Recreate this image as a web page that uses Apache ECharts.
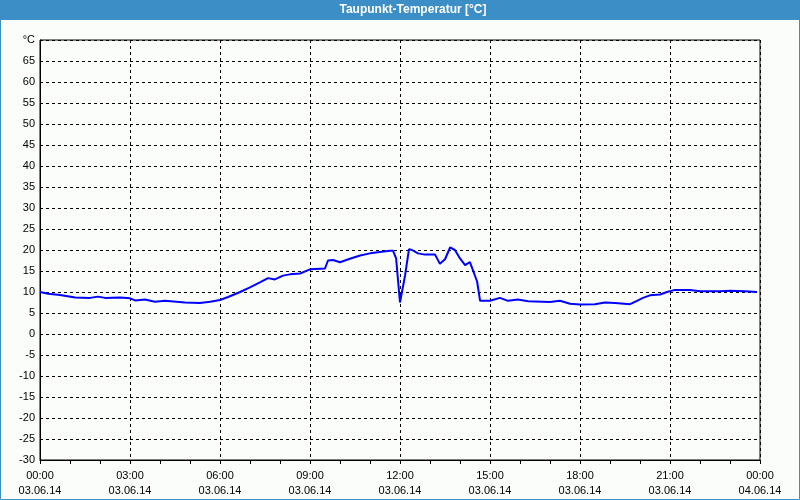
<!DOCTYPE html>
<html>
<head>
<meta charset="utf-8">
<script src="https://cdn.jsdelivr.net/npm/echarts@6/dist/echarts.min.js"></script>
<style>
html,body{margin:0;padding:0;background:#fbfdfb;}
#chart{width:800px;height:500px;}
</style>
</head>
<body>
<div id="chart"></div>
<script>
// Time in hours since 03.06.14 00:00
var hours = [0.0,0.27,0.67,1.17,1.67,1.93,2.17,2.67,3.0,3.17,3.5,3.83,4.17,4.83,5.33,5.67,6.0,6.27,6.67,7.0,7.33,7.6,7.83,8.1,8.33,8.67,9.0,9.5,9.6,9.77,10.0,10.33,10.67,11.0,11.33,11.67,11.77,11.87,12.0,12.17,12.3,12.4,12.6,12.83,13.17,13.33,13.5,13.67,13.83,14.0,14.17,14.33,14.43,14.57,14.67,15.0,15.33,15.6,15.93,16.27,17.0,17.33,17.67,18.0,18.5,18.83,19.17,19.67,19.9,20.1,20.33,20.67,20.9,21.17,21.67,22.0,22.67,23.0,23.5,23.9];
var dewPoint = [10.0,9.6,9.3,8.7,8.6,8.9,8.6,8.7,8.5,8.0,8.2,7.7,7.9,7.5,7.4,7.7,8.1,8.8,10.0,11.1,12.3,13.3,13.0,13.9,14.2,14.4,15.4,15.6,17.5,17.6,17.1,17.9,18.7,19.2,19.5,19.8,19.8,18.0,7.5,14.0,20.2,20.0,19.2,18.9,18.9,16.7,17.8,20.6,20.0,18.0,16.4,17.1,15.2,12.5,7.9,7.9,8.6,7.9,8.2,7.8,7.6,7.9,7.2,7.0,7.1,7.5,7.4,7.1,7.9,8.6,9.2,9.4,10.0,10.5,10.5,10.2,10.2,10.3,10.2,10.0];
var xTickHours = [0,3,6,9,12,15,18,21,24];
var xTickTimes = ['00:00','03:00','06:00','09:00','12:00','15:00','18:00','21:00','00:00'];
var xTickDates = ['03.06.14','03.06.14','03.06.14','03.06.14','03.06.14','03.06.14','03.06.14','03.06.14','04.06.14'];
var titleText = 'Taupunkt-Temperatur [°C]';
var unitLabel = '°C';

var data = hours.map(function(h,i){return [h, dewPoint[i]];});
var FONT = '"Liberation Sans", Arial, sans-serif';
var chart = echarts.init(document.getElementById('chart'), null, {renderer:'canvas'});
chart.setOption({
  backgroundColor:'#fbfdfb',
  animation:false,
  textStyle:{fontFamily:FONT},
  graphic:[
    {type:'rect', shape:{x:0,y:0,width:800,height:20}, style:{fill:'#3c8fc6'}, silent:true, z:-1},
    {type:'rect', shape:{x:0.5,y:0.5,width:799,height:499}, style:{fill:null, stroke:'#3c8fc6', lineWidth:1}, silent:true, z:-1},
    {type:'text', x:413, y:10, style:{text:titleText, fill:'#ffffff', font:'bold 12px '+FONT, textAlign:'center', textVerticalAlign:'middle'}}
  ],
  grid:{left:40, right:40, top:40, bottom:40, show:true, borderColor:'#000', borderWidth:1, backgroundColor:'transparent'},
  xAxis:{
    type:'value', min:0, max:24, interval:3,
    axisLine:{show:true, onZero:false, lineStyle:{color:'#000', width:1}},
    axisTick:{show:true, length:4, lineStyle:{color:'#000'}},
    minorTick:{show:true, splitNumber:3, length:4, lineStyle:{color:'#000'}},
    splitLine:{show:true, lineStyle:{color:'#000', type:[3,3], width:1}},
    axisLabel:{
      color:'#000', fontSize:11, fontFamily:FONT, margin:8, lineHeight:15,
      showMinLabel:true, showMaxLabel:true,
      formatter:function(v){
        var i = xTickHours.indexOf(v);
        return i<0 ? '' : xTickTimes[i] + '\n' + xTickDates[i];
      }
    }
  },
  yAxis:{
    type:'value', min:-30, max:70, interval:5,
    axisLine:{show:true, onZero:false, lineStyle:{color:'#000', width:1}},
    axisTick:{show:false},
    splitLine:{show:true, lineStyle:{color:'#000', type:[3,3], width:1}},
    axisLabel:{
      color:'#000', fontSize:11, fontFamily:FONT, margin:5,
      formatter:function(v){ return v===70 ? unitLabel : String(v); }
    }
  },
  series:[{
    type:'line', data:data, showSymbol:false, symbol:'none',
    lineStyle:{color:'#0000ff', width:2}, z:5
  }]
});
</script>
</body>
</html>
